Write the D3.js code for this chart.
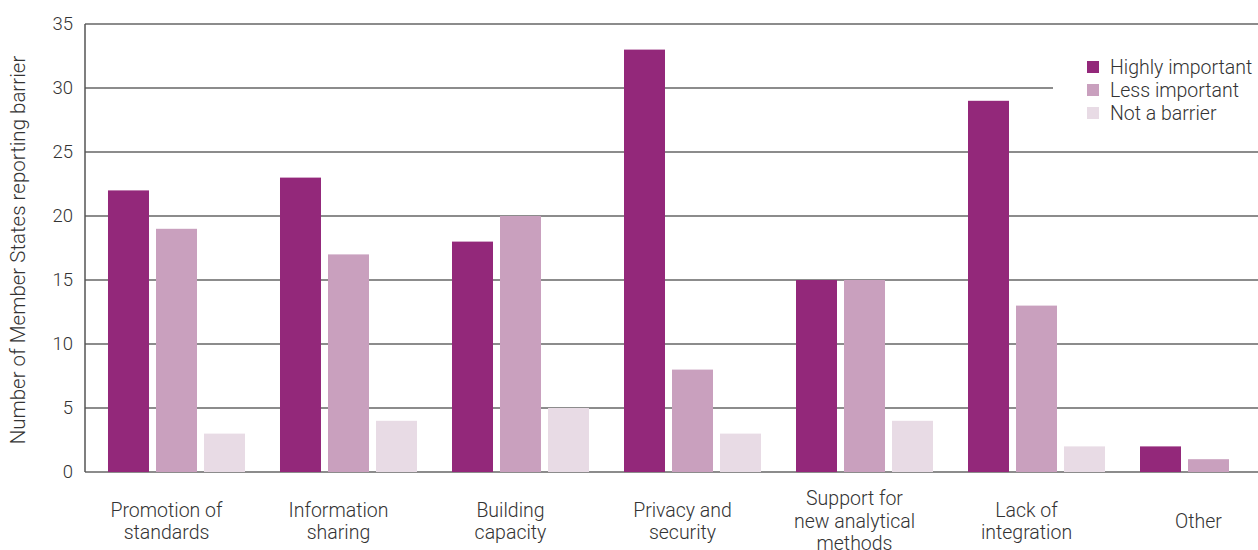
<!DOCTYPE html>
<html>
<head>
<meta charset="utf-8">
<script src="https://cdn.jsdelivr.net/npm/d3@7"></script>
<style>
  body { margin: 0; background: #fff; }
  text { font-family: Roboto, "Liberation Sans", sans-serif; font-weight: 300; fill: #333; }
</style>
</head>
<body>
<div id="chart"></div>
<script>
// Data
var categories = [
    ["Promotion of", "standards"],
    ["Information", "sharing"],
    ["Building", "capacity"],
    ["Privacy and", "security"],
    ["Support for", "new analytical", "methods"],
    ["Lack of", "integration"],
    ["Other"]
];
var seriesNames = ["Highly important", "Less important", "Not a barrier"];
var highlyImportant = [22, 23, 18, 33, 15, 29, 2];
var lessImportant = [19, 17, 20, 8, 15, 13, 1];
var notABarrier = [3, 4, 5, 3, 4, 2, 0];
var yTicks = [0, 5, 10, 15, 20, 25, 30, 35];

var seriesColor = d3.scaleOrdinal()
    .domain(seriesNames)
    .range(["#93287a", "#c9a0be", "#e8dbe5"]);

var W = 1258, H = 550;
var margin = { left: 85, top: 24, bottom: 78 };
var plotBottom = H - margin.bottom;

var svg = d3.select("#chart")
    .append("svg")
        .attr("width", W)
        .attr("height", H);

// scales
var y = d3.scaleLinear().domain([0, 35]).range([plotBottom, margin.top]);

var x0 = d3.scaleBand()
    .domain(d3.range(categories.length))
    .range([90.5, 90.5 + 7 * 172])
    .paddingInner(0.2035)
    .paddingOuter(0.1017);

var x1 = d3.scaleBand()
    .domain(seriesNames)
    .range([0, x0.bandwidth()])
    .paddingInner(0.146);

// legend placement (gridlines stop short of it)
var legendX = 1087, legendY = 61;
var legendBottom = legendY + 2 * 23 + 12;

// gridlines
svg.append("g")
    .selectAll("line")
    .data(yTicks)
    .enter()
    .append("line")
        .attr("x1", margin.left)
        .attr("x2", function(d){
            var yy = y(d);
            return (yy > legendY - 8 && yy < legendBottom + 8) ? legendX - 34 : W;
        })
        .attr("y1", function(d){ return y(d); })
        .attr("y2", function(d){ return y(d); })
        .attr("stroke", "#666")
        .attr("stroke-width", 1.5);

// y axis line
svg.append("line")
    .attr("x1", margin.left)
    .attr("x2", margin.left)
    .attr("y1", y(35))
    .attr("y2", y(0))
    .attr("stroke", "#555")
    .attr("stroke-width", 1.5);

// tick labels
var yAxis = d3.axisLeft(y).tickValues(yTicks).tickSize(0).tickPadding(12);
var yAxisGroup = svg.append("g")
    .attr("transform", "translate(" + margin.left + ",0)")
    .call(yAxis);
yAxisGroup.select(".domain").remove();
yAxisGroup.selectAll("text")
    .attr("font-size", "18.5px")
    .attr("font-family", null)
    .attr("fill", "#333");

// y label
svg.append("text")
    .attr("transform", "rotate(-90)")
    .attr("x", -(y(0) + y(35)) / 2 - 2)
    .attr("y", 25)
    .attr("text-anchor", "middle")
    .attr("font-size", "20.5px")
    .text("Number of Member States reporting barrier");

// bars
var rows = categories.map(function(c, i){
    return [highlyImportant[i], lessImportant[i], notABarrier[i]];
});

var groups = svg.append("g")
    .selectAll("g")
    .data(rows)
    .enter()
    .append("g")
        .attr("transform", function(d, i){ return "translate(" + x0(i) + ",0)"; });

groups.selectAll("rect")
    .data(function(d){
        return d.map(function(v, j){ return { key: seriesNames[j], value: v }; });
    })
    .enter()
    .append("rect")
        .attr("x", function(d){ return x1(d.key); })
        .attr("width", x1.bandwidth())
        .attr("y", function(d){ return y(d.value); })
        .attr("height", function(d){ return y(0) - y(d.value); })
        .attr("fill", function(d){ return seriesColor(d.key); });

// category labels, vertically centred around one line
categories.forEach(function(lines, i){
    var cx = x0(i) + x0.bandwidth() / 2 - 10;
    var firstBase = 528 - (lines.length - 1) * 11.5;
    var t = svg.append("text")
        .attr("text-anchor", "middle")
        .attr("font-size", "19.5px");
    lines.forEach(function(line, k){
        t.append("tspan")
            .attr("x", cx)
            .attr("y", firstBase + k * 22.5)
            .text(line);
    });
});

// legend
seriesNames.forEach(function(name, i){
    var row = svg.append("g")
        .attr("transform", "translate(" + legendX + "," + (legendY + i * 23) + ")");
    row.append("rect")
        .attr("width", 12)
        .attr("height", 12)
        .attr("fill", seriesColor(name));
    row.append("text")
        .attr("x", 23)
        .attr("y", 12.5)
        .attr("font-size", "19.5px")
        .text(name);
});
</script>
</body>
</html>
